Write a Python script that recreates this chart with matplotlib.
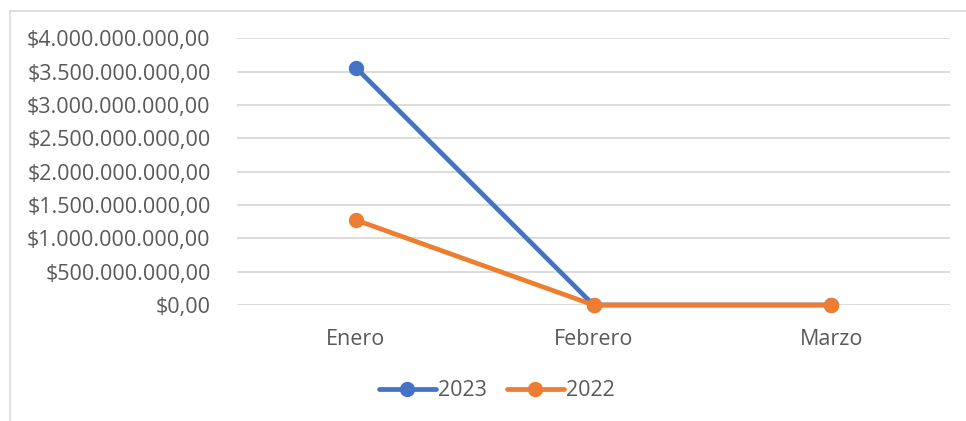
# line chart: monthly totals 2023 vs 2022

import matplotlib.pyplot as plt
from matplotlib.lines import Line2D
from matplotlib.ticker import FuncFormatter

# data
months = ['Enero', 'Febrero', 'Marzo']
values_2023 = [3.56e9, 0, 0]
values_2022 = [1.275e9, 0, 0]
y_ticks = [i * 5e8 for i in range(9)]

plt.rcParams['font.family'] = ['Open Sans', 'DejaVu Sans']
text_color = '#595959'
grid_color = '#d9d9d9'
fs = 15.5

def peso_fmt(v, pos):
        s = '{:,.2f}'.format(v)
        s = s.replace(',', 'X').replace('.', ',').replace('X', '.')
        return '$' + s

W, H = 966, 421
fig = plt.figure(figsize=(W / 100, H / 100), dpi=100)
ax = fig.add_axes([237 / W, 1 - 305 / H, (950 - 237) / W, (305 - 38.3) / H])

x = range(len(months))
ax.plot(x, values_2023, color='#4472c4', lw=3.4, marker='o', ms=10,
        solid_capstyle='round', label='2023', zorder=3, clip_on=False)
ax.plot(x, values_2022, color='#ed7d31', lw=3.4, marker='o', ms=10,
        solid_capstyle='round', label='2022', zorder=4, clip_on=False)

ax.set_xlim(-0.5, len(months) - 0.5)
ax.set_ylim(0, 4e9)
ax.set_yticks(y_ticks)
ax.yaxis.set_major_formatter(FuncFormatter(peso_fmt))
ax.set_xticks(list(x))
ax.set_xticklabels(months)
ax.grid(axis='y', color=grid_color, lw=1.3)
ax.set_axisbelow(True)
for sp in ax.spines.values():
        sp.set_visible(False)
ax.tick_params(axis='both', length=0, labelsize=fs, colors=text_color)
ax.tick_params(axis='y', pad=19)
ax.tick_params(axis='x', pad=17)

leg = fig.legend(loc='center', bbox_to_anchor=(497 / W, 1 - 391 / H), ncol=2,
                 frameon=False, fontsize=fs, handlelength=2.64,
                 columnspacing=0.9, handletextpad=0.12)
for t in leg.get_texts():
        t.set_color(text_color)

# chart border (partly cropped in the picture)
fig.add_artist(Line2D([10 / W, 1], [1 - 11 / H] * 2, color=grid_color, lw=1.2))
fig.add_artist(Line2D([10 / W] * 2, [0, 1 - 11 / H], color=grid_color, lw=1.2))

fig.savefig('out.png', dpi=100)
